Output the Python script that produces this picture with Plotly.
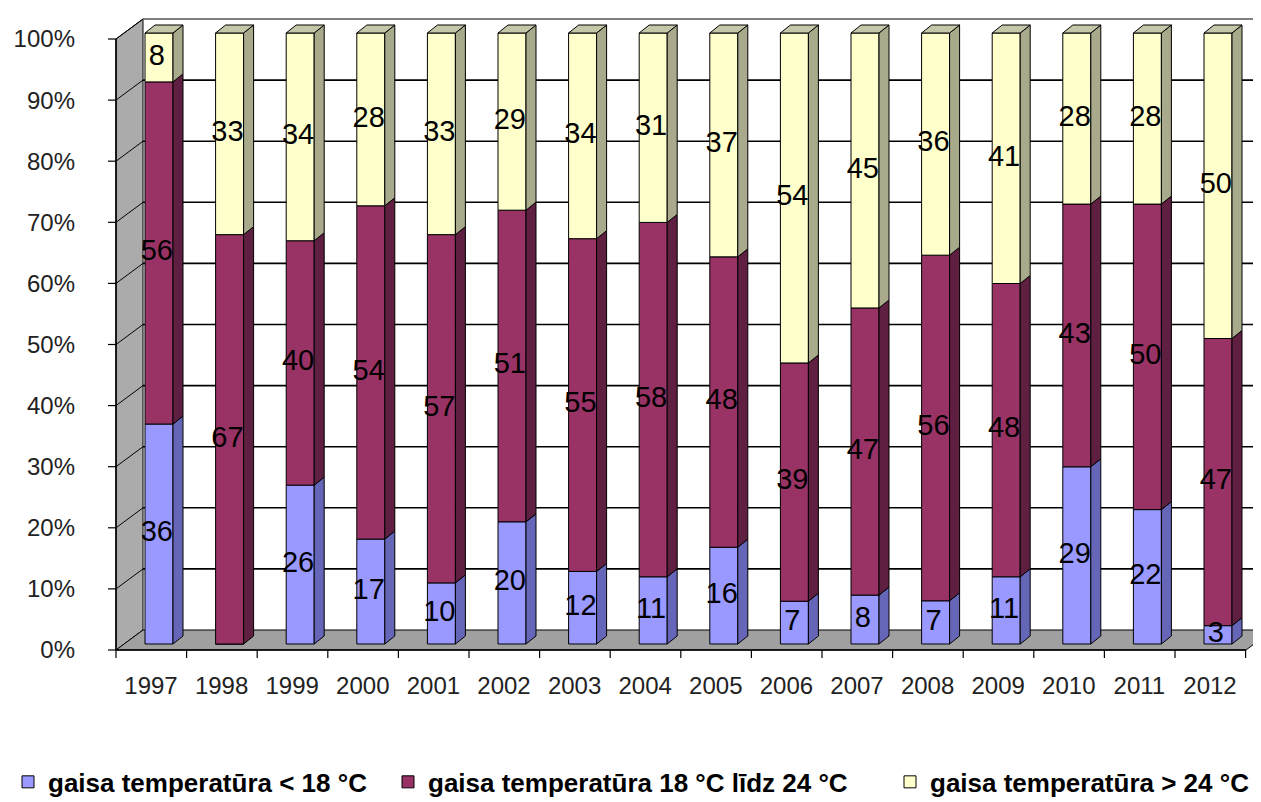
import plotly.graph_objects as go

years = ["1997", "1998", "1999", "2000", "2001", "2002", "2003", "2004",
         "2005", "2006", "2007", "2008", "2009", "2010", "2011", "2012"]
below18 = [36, 0, 26, 17, 10, 20, 12, 11, 16, 7, 8, 7, 11, 29, 22, 3]
mid18_24 = [56, 67, 40, 54, 57, 51, 55, 58, 48, 39, 47, 56, 48, 43, 50, 47]
above24 = [8, 33, 34, 28, 33, 29, 34, 31, 37, 54, 45, 36, 41, 28, 28, 50]
series_names = ["gaisa temperatūra < 18 °C",
                "gaisa temperatūra 18 °C līdz 24 °C",
                "gaisa temperatūra > 24 °C"]
y_ticks = [0, 10, 20, 30, 40, 50, 60, 70, 80, 90, 100]

front_colors = ["#9999FF", "#993366", "#FFFFCC"]
side_colors = ["#6666B8", "#5E1F40", "#A9A98C"]
top_colors = ["#B8B8FF", "#B0507E", "#C6C6A8"]

# ---- geometry helpers (pixel -> axis units) ----
PX0, STEP = 151.0, 70.6      # pixel x of category 0 bar-face centre, category pitch
Y0PX, PXPCT = 636.0, 6.11    # pixel y of 0% on bar face, pixels per percent
def X(px): return (px - PX0) / STEP
def Y(py): return (Y0PX - py) / PXPCT

BAR_W = 28 / STEP
DX, DY = 10 / STEP, 8 / PXPCT
FRONT_L, BACK_L, FRONT_R = 108, 135, 1238
FRONT_B, BACK_B = 642, 622

n = len(years)
xs = list(range(n))
series = [below18, mid18_24, above24]
totals = [sum(s[i] for s in series) for i in range(n)]
pcts = [[s[i] / totals[i] * 100 for i in range(n)] for s in series]
bases = []
cum = [0.0] * n
for p in pcts:
    bases.append(cum[:])
    cum = [cum[i] + p[i] for i in range(n)]

fig = go.Figure()

legend_ids = ["legend", "legend2", "legend3"]
# front faces
for k in range(3):
    fig.add_trace(go.Bar(
        x=xs, y=pcts[k], base=bases[k], width=BAR_W, offset=-BAR_W / 2,
        name=series_names[k], legend=legend_ids[k],
        marker=dict(color=front_colors[k], line=dict(color="black", width=1)),
        hoverinfo="skip"))

# side faces and top faces
for k in range(3):
    sx, sy = [], []
    for i in range(n):
        if pcts[k][i] <= 0:
            continue
        xr = i + BAR_W / 2
        b, t = bases[k][i], bases[k][i] + pcts[k][i]
        sx += [xr, xr + DX, xr + DX, xr, xr, None]
        sy += [b, b + DY, t + DY, t, b, None]
    fig.add_trace(go.Scatter(x=sx, y=sy, mode="lines", fill="toself",
                             fillcolor=side_colors[k],
                             line=dict(color="black", width=1),
                             showlegend=False, hoverinfo="skip"))
    tx, ty = [], []
    for i in range(n):
        if pcts[k][i] <= 0 or k != max(j for j in range(3) if pcts[j][i] > 0):
            continue
        xl, xr = i - BAR_W / 2, i + BAR_W / 2
        t = bases[k][i] + pcts[k][i]
        tx += [xl, xr, xr + DX, xl + DX, xl, None]
        ty += [t, t, t + DY, t + DY, t, None]
    fig.add_trace(go.Scatter(x=tx, y=ty, mode="lines", fill="toself",
                             fillcolor=top_colors[k],
                             line=dict(color="black", width=1),
                             showlegend=False, hoverinfo="skip"))

# data labels
lx, ly, lt = [], [], []
for k in range(3):
    for i in range(n):
        v = series[k][i]
        if v <= 0:
            continue
        lx.append(i - 0.03)
        ly.append(bases[k][i] + pcts[k][i] / 2)
        lt.append(str(v))
fig.add_trace(go.Scatter(x=lx, y=ly, text=lt, mode="text",
                         textfont=dict(family="Liberation Sans", size=29, color="black"),
                         showlegend=False, hoverinfo="skip", cliponaxis=False))

# ---- walls, floor, gridlines ----
shapes = []
def path(pts):
    return "M " + " L ".join(f"{X(a)},{Y(b)}" for a, b in pts) + " Z"
shapes.append(dict(type="path", xref="x", yref="y", layer="below",
                   path=path([(FRONT_L, FRONT_B), (BACK_L, BACK_B), (BACK_L, 11), (FRONT_L, 31)]),
                   fillcolor="#ABABAB", line=dict(color="black", width=1)))
shapes.append(dict(type="path", xref="x", yref="y", layer="below",
                   path=path([(FRONT_L, FRONT_B), (FRONT_R, FRONT_B), (FRONT_R + 27, BACK_B), (BACK_L, BACK_B)]),
                   fillcolor="#A0A0A0", line=dict(color="black", width=1)))
for v in y_ticks[1:]:
    yb = BACK_B - PXPCT * v
    yf = FRONT_B - PXPCT * v
    shapes.append(dict(type="line", xref="x", yref="y", layer="below",
                       x0=X(BACK_L), x1=X(1262), y0=Y(yb), y1=Y(yb),
                       line=dict(color="#555555" if v == 100 else "black", width=1.6)))
    shapes.append(dict(type="line", xref="x", yref="y", layer="below",
                       x0=X(FRONT_L), x1=X(BACK_L), y0=Y(yf), y1=Y(yb),
                       line=dict(color="black", width=1)))
for v in y_ticks:
    yf = FRONT_B - PXPCT * v
    shapes.append(dict(type="line", xref="x", yref="y", layer="below",
                       x0=X(100), x1=X(FRONT_L), y0=Y(yf), y1=Y(yf),
                       line=dict(color="black", width=1.2)))
# axis lines
shapes.append(dict(type="line", xref="x", yref="y", x0=X(FRONT_L), x1=X(FRONT_L),
                   y0=Y(FRONT_B), y1=Y(31), line=dict(color="black", width=1.5)))
shapes.append(dict(type="line", xref="x", yref="y", x0=X(FRONT_L), x1=X(FRONT_R),
                   y0=Y(FRONT_B), y1=Y(FRONT_B), line=dict(color="black", width=1.5)))
for k in range(n + 1):
    px = FRONT_L + STEP * k
    shapes.append(dict(type="line", xref="x", yref="y", x0=X(px), x1=X(px),
                       y0=Y(FRONT_B), y1=Y(FRONT_B + 8), line=dict(color="black", width=1.2)))

legend_font = dict(family="Liberation Sans", size=26, color="black", weight="bold")
def legend_box(xpos):
    return dict(orientation="h", xref="container", yref="container",
                x=xpos, xanchor="left", y=0.035, yanchor="middle",
                font=legend_font, itemwidth=30, bgcolor="rgba(0,0,0,0)")

PL, PR, PT, PB = 98, 1261, 8, 655
fig.update_layout(
    width=1261, height=802,
    margin=dict(l=PL, r=1261 - PR, t=PT, b=802 - PB),
    barmode="overlay",
    plot_bgcolor="white", paper_bgcolor="white",
    shapes=shapes,
    showlegend=True,
    legend=legend_box(0.0),
    legend2=legend_box(380 / 1261),
    legend3=legend_box(882 / 1261),
    xaxis=dict(range=[X(PL), X(PR)], showgrid=False, zeroline=False, showline=False,
               tickmode="array",
               tickvals=[i - 8 / STEP for i in xs], ticktext=years, ticks="",
               ticklabelstandoff=6,
               tickfont=dict(family="Liberation Sans", size=24, color="#222222")),
    yaxis=dict(range=[Y(PB), Y(PT)], showgrid=False, zeroline=False, showline=False,
               tickmode="array",
               tickvals=[Y(FRONT_B - PXPCT * v) for v in y_ticks],
               ticktext=[f"{v}%" for v in y_ticks], ticks="",
               ticklabelstandoff=30,
               tickfont=dict(family="Liberation Sans", size=24, color="#222222")),
)

fig.write_html("out.html")
